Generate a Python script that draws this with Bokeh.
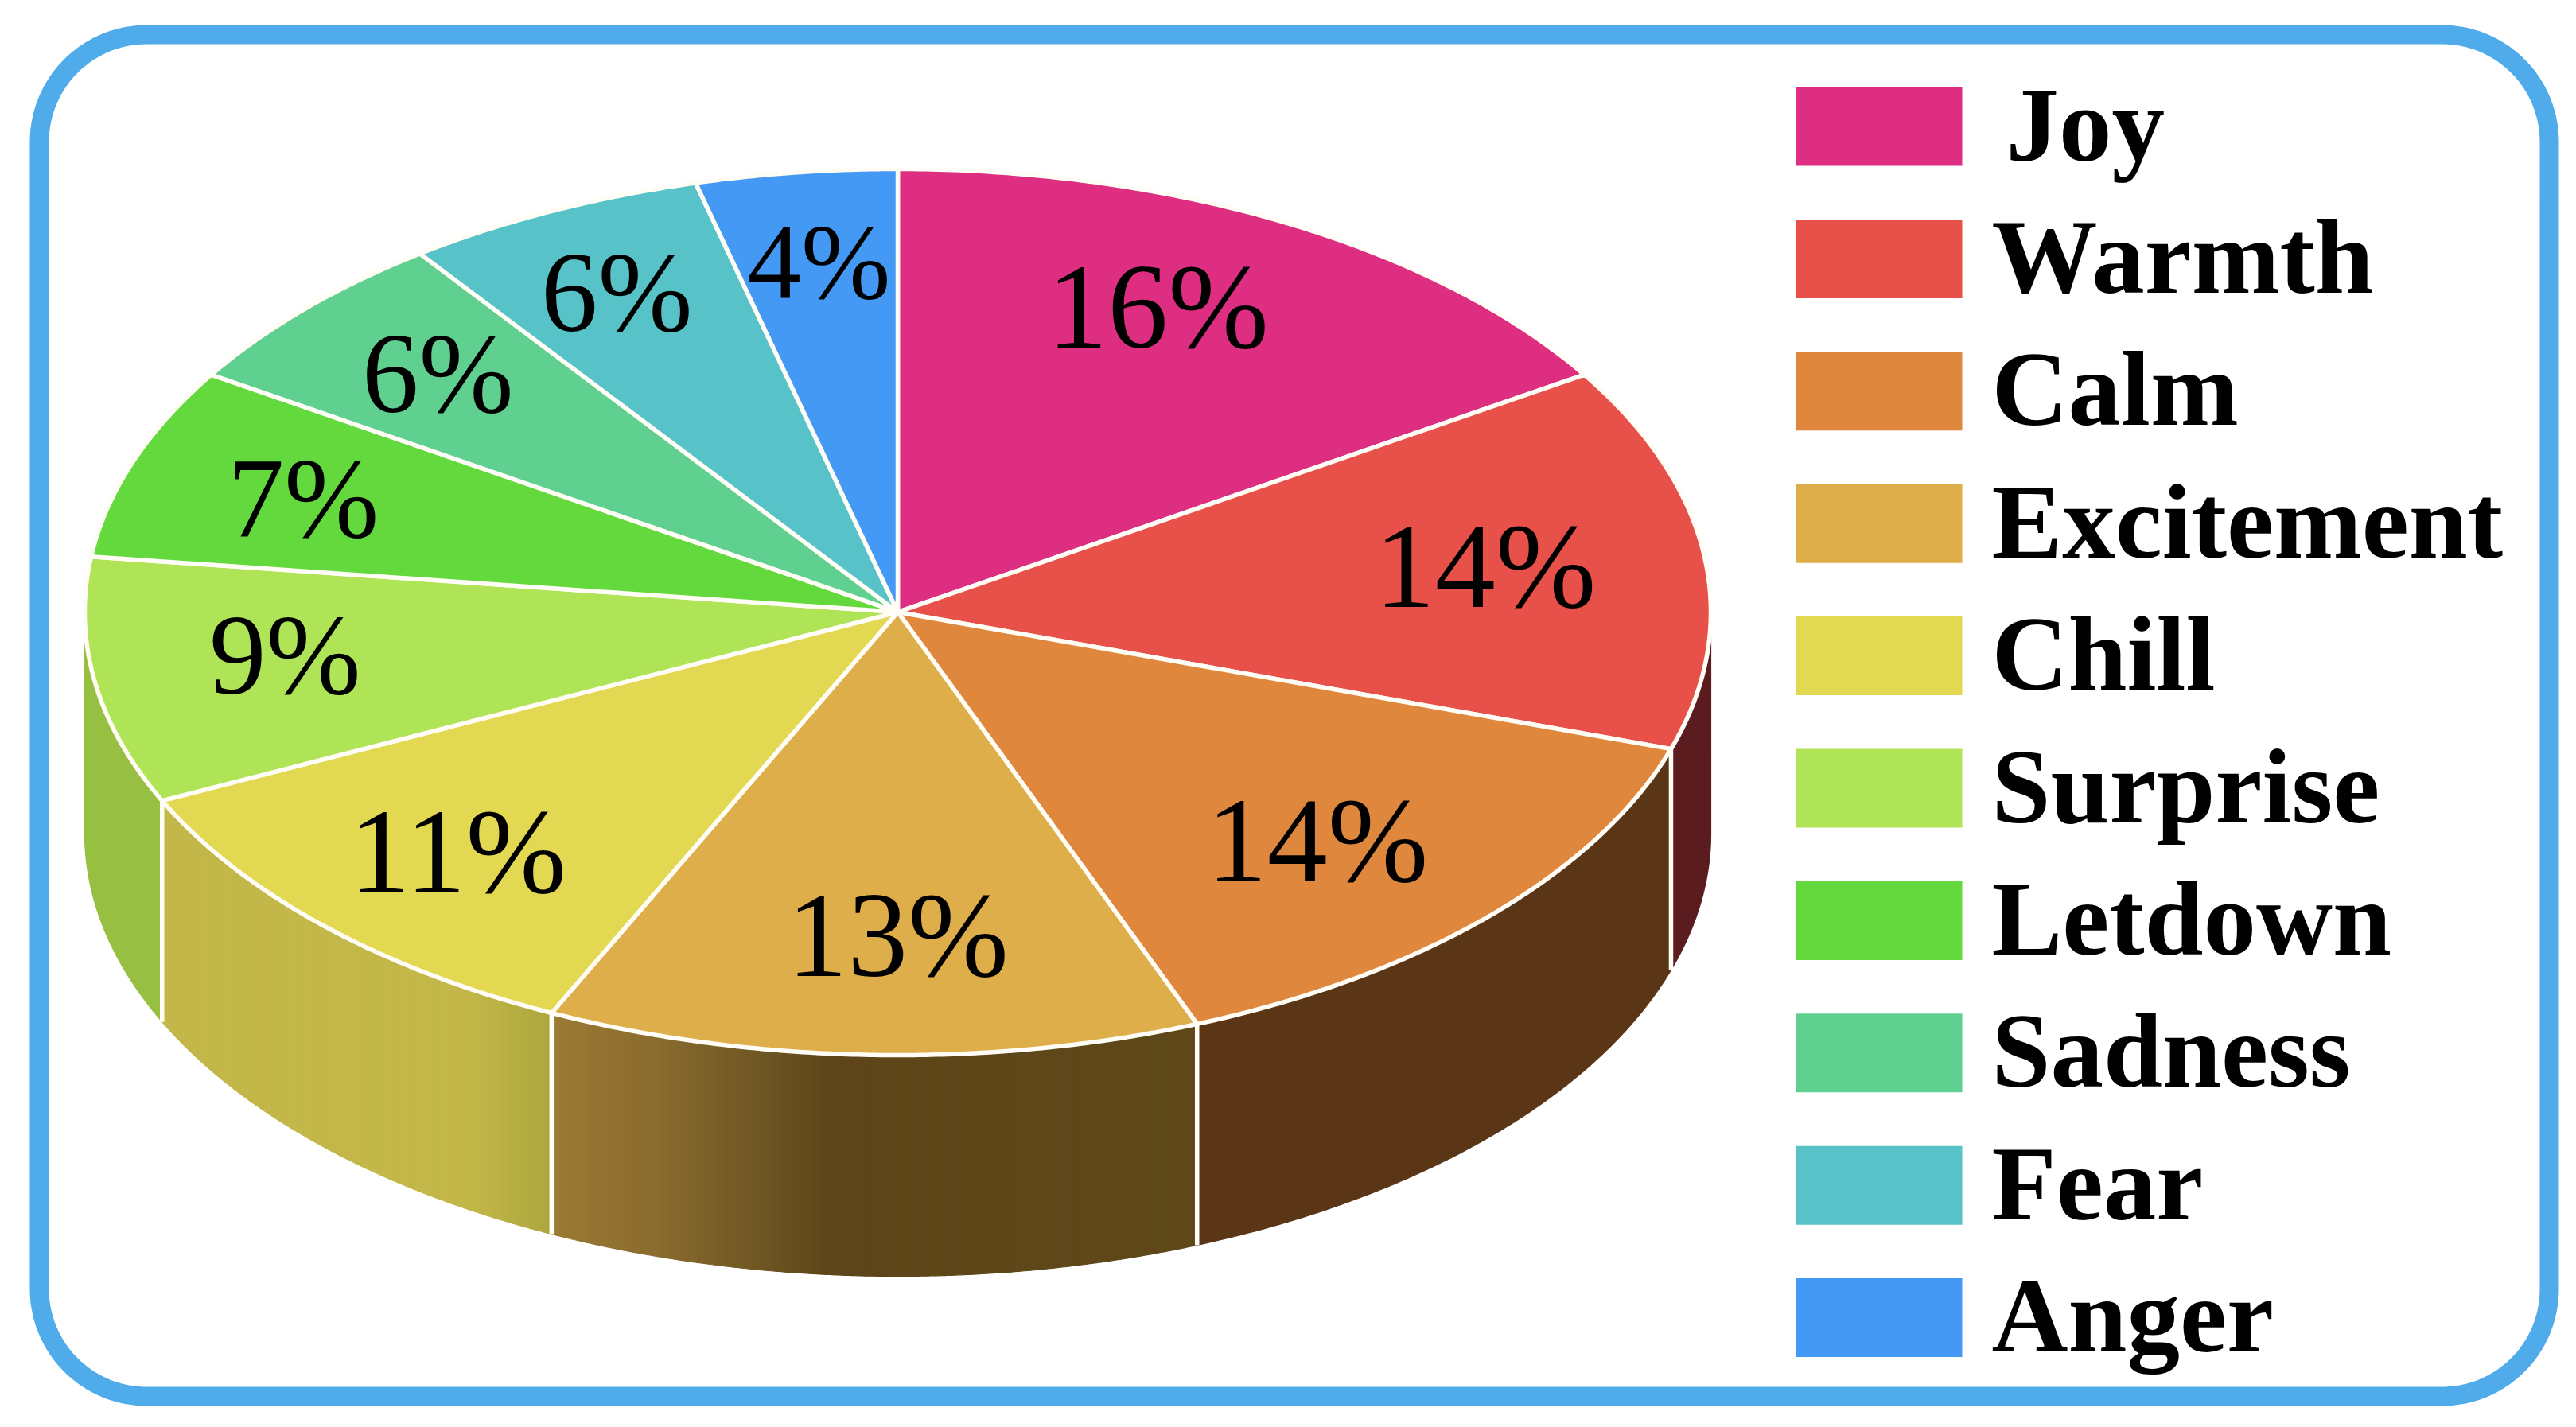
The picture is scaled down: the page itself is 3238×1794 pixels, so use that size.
import numpy as np
from bokeh.plotting import figure
from bokeh.models import Range1d, ColumnDataSource
from bokeh.core.properties import value
from bokeh.embed import file_html
from bokeh.resources import INLINE

categories = ["Joy", "Warmth", "Calm", "Excitement", "Chill", "Surprise", "Letdown", "Sadness", "Fear", "Anger"]
percent = [16, 14, 14, 13, 11, 9, 7, 6, 6, 4]
top_colors = ["#DD2E82", "#E8504A", "#E0873E", "#DEAE4A", "#E2D852", "#AEE455", "#64D93E", "#5FD090", "#57C3C8", "#4499F5"]
# side shading: (pixel x, colour) stops per slice
side_stops = {
    "Warmth": [(2100, "#5A1C1F"), (2160, "#5A1C1F")],
    "Calm": [(1500, "#5B3616"), (2110, "#5B3616")],
    "Excitement": [(690, "#9C7A33"), (820, "#8A6C2E"), (970, "#6B5322"), (1040, "#5E4519"), (1510, "#5E4819")],
    "Chill": [(200, "#C2B748"), (590, "#C2B748"), (695, "#ACA63E")],
    "Surprise": [(100, "#97BF42"), (210, "#97BF42")],
}
label_radius = [0.76, 0.73, 0.73, 0.73, 0.765, 0.76, 0.775, 0.78, 0.80, 0.795]
label_turn = [-3.9, -0.9, 1.8, -1.8, 0, 1.6, -0.5, 0.3, -0.4, 0.2]
label_size = [152, 152, 152, 152, 152, 143, 143, 143, 143, 135]

CX, CY, RX, RY, DEPTH = 1128.0, 769.0, 1022.0, 557.0, 278.0
EDGE = "#FFFDF6"
FRAME = "#4FABEA"

p = figure(width=3222, height=1778, output_backend="svg", toolbar_location=None,
           x_range=Range1d(0, 3222), y_range=Range1d(1778, 0),
           x_axis_location=None, y_axis_location=None, min_border=0,
           outline_line_color=None, background_fill_color="white", border_fill_color="white")
p.grid.visible = False


def rim(deg):
    t = np.radians(deg)
    return CX + RX * np.sin(t), CY - RY * np.cos(t)


# rounded frame
fr_l, fr_r, fr_t, fr_b, fr_rad = 49.0, 3204.0, 43.0, 1755.0, 135.0
fx, fy = [], []
for cx0, cy0, a0 in [(fr_r - fr_rad, fr_t + fr_rad, -90), (fr_r - fr_rad, fr_b - fr_rad, 0),
                     (fr_l + fr_rad, fr_b - fr_rad, 90), (fr_l + fr_rad, fr_t + fr_rad, 180)]:
    a = np.radians(np.linspace(a0, a0 + 90, 30))
    fx.extend(cx0 + fr_rad * np.cos(a))
    fy.extend(cy0 + fr_rad * np.sin(a))
fx.append(fx[0]); fy.append(fy[0])
p.line(fx, fy, line_color=FRAME, line_width=24, line_join="round")

# slice angles, clockwise from twelve o'clock
edges = 360.0 * np.cumsum([0] + percent) / sum(percent)

# side wall
for name, a0, a1 in zip(categories, edges[:-1], edges[1:]):
    lo, hi = max(a0, 90.0), min(a1, 270.0)
    if lo >= hi or name not in side_stops:
        continue
    stops = side_stops[name]
    sx, sc = [s[0] for s in stops], [s[1] for s in stops]
    rgb = np.array([[int(c[i:i + 2], 16) for i in (1, 3, 5)] for c in sc], dtype=float)
    flat = len(set(sc)) == 1
    grid = np.array([lo, hi]) if flat else np.linspace(lo, hi, 70)
    for g0, g1 in zip(grid[:-1], grid[1:]):
        aa = np.linspace(g0, g1, 80 if flat else 4)
        x, y = rim(aa)
        mid = x.mean()
        col = [int(round(np.interp(mid, sx, rgb[:, k]))) for k in range(3)]
        hexc = "#%02X%02X%02X" % tuple(col)
        p.patch(np.r_[x, x[::-1]], np.r_[y, y[::-1] + DEPTH], fill_color=hexc,
                line_color=hexc, line_width=1.2)

# separators on the side wall
for a in edges:
    if 90 < a < 270:
        x, y = rim(a)
        p.line([x, x], [y, y + DEPTH], line_color=EDGE, line_width=5.5)

# top face
xs, ys = [], []
for a0, a1 in zip(edges[:-1], edges[1:]):
    aa = np.linspace(a0, a1, 120)
    x, y = rim(aa)
    xs.append(np.r_[CX, x, CX])
    ys.append(np.r_[CY, y, CY])
p.patches(xs=xs, ys=ys, fill_color=top_colors, line_color=EDGE, line_width=5.5, line_join="round")

# slice labels
mids = (edges[:-1] + edges[1:]) / 2 + np.array(label_turn)
lx = CX + RX * np.array(label_radius) * np.sin(np.radians(mids))
ly = CY - RY * np.array(label_radius) * np.cos(np.radians(mids))
src = ColumnDataSource(dict(x=lx, y=ly, t=[f"{v}%" for v in percent], s=[f"{v}px" for v in label_size]))
p.text("x", "y", text="t", source=src, text_align="center", text_baseline="middle",
       text_font=value("Liberation Serif"), text_font_size="s", text_color="black")

# legend
LEG_X0, LEG_X1, LEG_TOP, LEG_H, LEG_PITCH = 2257.0, 2466.0, 109.0, 99.0, 166.4
tops = LEG_TOP + LEG_PITCH * np.arange(len(categories))
p.quad(left=LEG_X0, right=LEG_X1, top=tops, bottom=tops + LEG_H, fill_color=top_colors, line_color=None)
name_nudge = [18, 0, 0, 0, 0, 0, 0, 0, 0, 0]
src2 = ColumnDataSource(dict(x=2503.0 + np.array(name_nudge), y=tops + 47, t=categories))
p.text("x", "y", text="t", source=src2, text_align="left", text_baseline="middle",
       text_font=value("Liberation Serif"), text_font_style="bold", text_font_size="133px", text_color="black")

open("out.html", "w").write(file_html(p, INLINE))
